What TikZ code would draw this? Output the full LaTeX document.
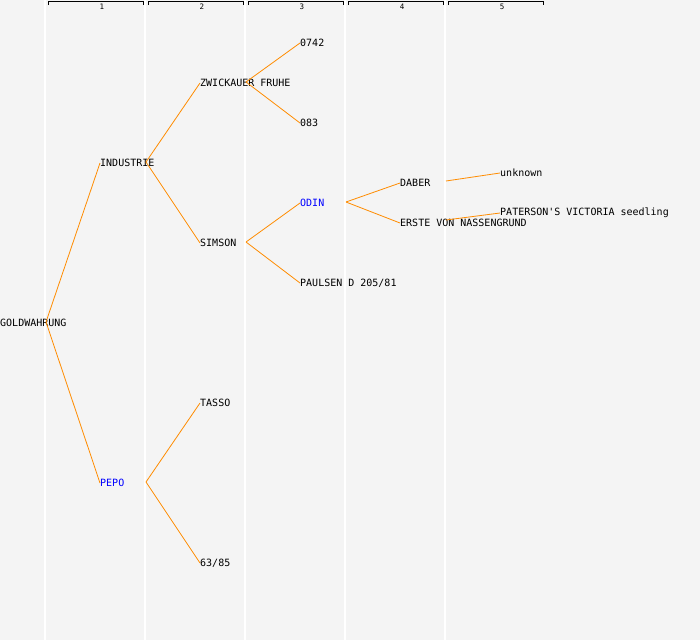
\documentclass[tikz,border=0pt]{standalone}
\usepackage{fontspec}
\setmonofont{DejaVu Sans Mono}
\usetikzlibrary{calc}

\definecolor{bgGrey}{HTML}{F4F4F4}
\definecolor{linkOrange}{HTML}{FF8C00}
\definecolor{nameBlue}{HTML}{0000FF}

\tikzset{
	plant/.style={anchor=west, inner sep=0pt, font=\ttfamily\fontsize{10}{10}\selectfont, text=black},
	mark blue/.style={plant, text=nameBlue},
	link/.style={draw=linkOrange, line width=0.8pt},
	gen/.style={font=\ttfamily\fontsize{7.5}{7.5}\selectfont, inner sep=0pt}
}

\begin{document}
\begin{tikzpicture}[x=1pt, y=-1pt]
					\def\W{700};
					\def\H{640};

					\fill[bgGrey] (0,0) rectangle (\W,\H);
					\useasboundingbox (0,0) rectangle (\W,\H);

					% generation columns
					\begin{scope}
						\foreach \g in {1,...,5}
						{
							\draw[white, line width=1.2pt] ({\g*100-55},0) -- ({\g*100-55},\H);
							\draw[black, line width=0.8pt] ({\g*100-52},5) -- ({\g*100-52},1.5) -- ({\g*100+43},1.5) -- ({\g*100+43},5);
							\node[gen] (head\g) at ({\g*100+2},7) {\g};
						}
					\end{scope}

					% plants
					\begin{scope}
						\node[plant] (gold) at (0,323) {GOLDWAHRUNG};
						\node[plant] (industrie) at (100,163) {INDUSTRIE};
						\node[mark blue] (pepo) at (100,483) {PEPO};
						\node[plant] (zwickauer) at (200,83) {ZWICKAUER FRUHE};
						\node[plant] (simson) at (200,243) {SIMSON};
						\node[plant] (tasso) at (200,403) {TASSO};
						\node[plant] (nr6385) at (200,563) {63/85};
						\node[plant] (nr0742) at (300,43) {0742};
						\node[plant] (nr083) at (300,123) {083};
						\node[mark blue] (odin) at (300,203) {ODIN};
						\node[plant] (paulsen) at (300,283) {PAULSEN D 205/81};
						\node[plant] (daber) at (400,183) {DABER};
						\node[plant] (erste) at (400,223) {ERSTE VON NASSENGRUND};
						\node[plant] (unknown) at (500,173) {unknown};
						\node[plant] (paterson) at (500,213) {PATERSON'S VICTORIA seedling};
					\end{scope}

					% forks
					\coordinate (goldF) at (46,322);
					\coordinate (industrieF) at (146,162);
					\coordinate (pepoF) at (146,482);
					\coordinate (zwickauerF) at (246,82);
					\coordinate (simsonF) at (246,242);
					\coordinate (odinF) at (346,202);
					\coordinate (daberF) at (446,181);
					\coordinate (ersteF) at (446,220);

					% links
					\begin{scope}[link]
						\draw (goldF) -- (industrie.west);
						\draw (goldF) -- (pepo.west);
						\draw (industrieF) -- (zwickauer.west);
						\draw (industrieF) -- (simson.west);
						\draw (pepoF) -- (tasso.west);
						\draw (pepoF) -- (nr6385.west);
						\draw (zwickauerF) -- (nr0742.west);
						\draw (zwickauerF) -- (nr083.west);
						\draw (simsonF) -- (odin.west);
						\draw (simsonF) -- (paulsen.west);
						\draw (odinF) -- (daber.west);
						\draw (odinF) -- (erste.west);
						\draw (daberF) -- (unknown.west);
						\draw (ersteF) -- (paterson.west);
					\end{scope}
				\end{tikzpicture}
\end{document}
